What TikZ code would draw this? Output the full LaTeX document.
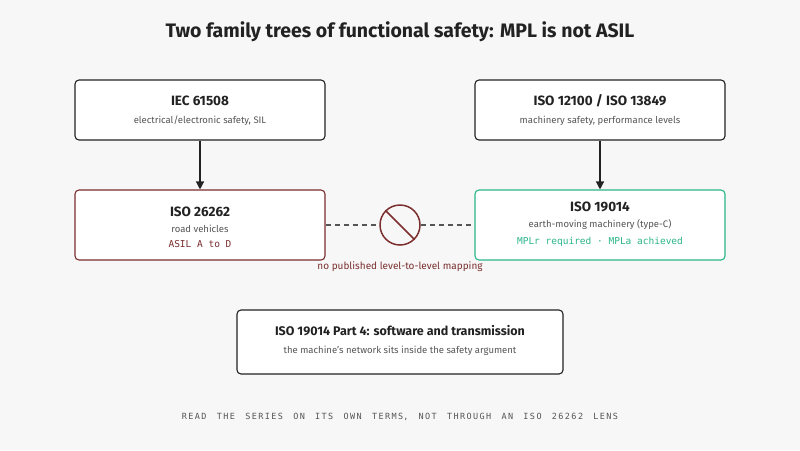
\documentclass[tikz,border=0pt]{standalone}
\usepackage{fontspec}
\setmainfont{Fira Sans}
\newfontfamily\monof{DejaVu Sans Mono}
\usetikzlibrary{arrows.meta}
\definecolor{bgc}{HTML}{F7F7F7}
\definecolor{inkc}{HTML}{222222}
\definecolor{greyc}{HTML}{555555}
\definecolor{redc}{HTML}{7A2E2E}
\definecolor{greenc}{HTML}{2BB58A}
\begin{document}
\begin{tikzpicture}[x=1pt,y=-1pt]
    \tikzstyle{std}=[draw=inkc,line width=1.1pt,rounded corners=4pt,fill=white,minimum width=250pt,minimum height=60pt,align=center,inner sep=0pt]
    \tikzstyle{ttl}=[font=\fontsize{13.5}{15}\selectfont\bfseries,text=inkc]
    \tikzstyle{sub}=[font=\fontsize{9.5}{11}\selectfont,text=greyc]
    \tikzstyle{code}=[font=\monof\fontsize{9.5}{11}\selectfont]
    \tikzstyle{link}=[line width=1.3pt,draw=inkc,-{Triangle[length=8pt,width=8pt]}]

    \fill[bgc] (0,0) rectangle (800,450);
    \node[font=\fontsize{19.5}{22}\selectfont\bfseries,text=inkc] (title) at (400,32) {Two family trees of functional safety: MPL is not ASIL};

    \node[std] at (200,110) (iec) {};
    \node[ttl] at (200,101) (iect) {IEC 61508};
    \node[sub] at (200,121) (iecs) {electrical/electronic safety, SIL};

    \node[std] at (600,110) (mach) {};
    \node[ttl] at (600,101) (macht) {ISO 12100 / ISO 13849};
    \node[sub] at (600,121) (machs) {machinery safety, performance levels};

    \node[std,draw=redc,minimum height=70pt] at (200,225) (road) {};
    \node[ttl] at (200,212) (roadt) {ISO 26262};
    \node[sub] at (200,229) (roads) {road vehicles};
    \node[code,text=redc] at (200,244) (roadc) {ASIL A to D};

    \node[std,draw=greenc,minimum height=70pt] at (600,225) (earth) {};
    \node[ttl] at (600,207) (eartht) {ISO 19014};
    \node[sub] at (600,224) (earths) {earth-moving machinery (type-C)};
    \node[code,text=greenc] at (600,242) (earthc) {MPLr required · MPLa achieved};

    \node[std,minimum width=326pt,minimum height=64pt] at (400,342) (part) {};
    \node[ttl,font=\fontsize{12.5}{14}\selectfont\bfseries] at (400,331) (partt) {ISO 19014 Part 4: software and transmission};
    \node[sub] at (400,351) (parts) {the machine's network sits inside the safety argument};

    \draw[link] (iec) -- (road);
    \draw[link] (mach) -- (earth);

    \node[circle,draw=redc,line width=1.5pt,minimum size=40pt,inner sep=0pt] at (400,225) (ban) {};
    \draw[redc,line width=1.5pt] (ban.north west) -- (ban.south east);
    \draw[greyc,line width=1.3pt,dash pattern=on 5pt off 4pt] (road) -- (ban);
    \draw[greyc,line width=1.3pt,dash pattern=on 5pt off 4pt] (ban) -- (earth);
    \node[font=\fontsize{10}{11}\selectfont,text=redc] at (400,267) (nomap) {no published level-to-level mapping};

    \node[font=\monof\fontsize{8.5}{10}\selectfont,text=greyc] at (400,417) (foot) {R\,E\,A\,D\ \ T\,H\,E\ \ S\,E\,R\,I\,E\,S\ \ O\,N\ \ I\,T\,S\ \ O\,W\,N\ \ T\,E\,R\,M\,S,\ \ N\,O\,T\ \ T\,H\,R\,O\,U\,G\,H\ \ A\,N\ \ I\,S\,O\ \ 2\,6\,2\,6\,2\ \ L\,E\,N\,S};
\end{tikzpicture}
\end{document}
